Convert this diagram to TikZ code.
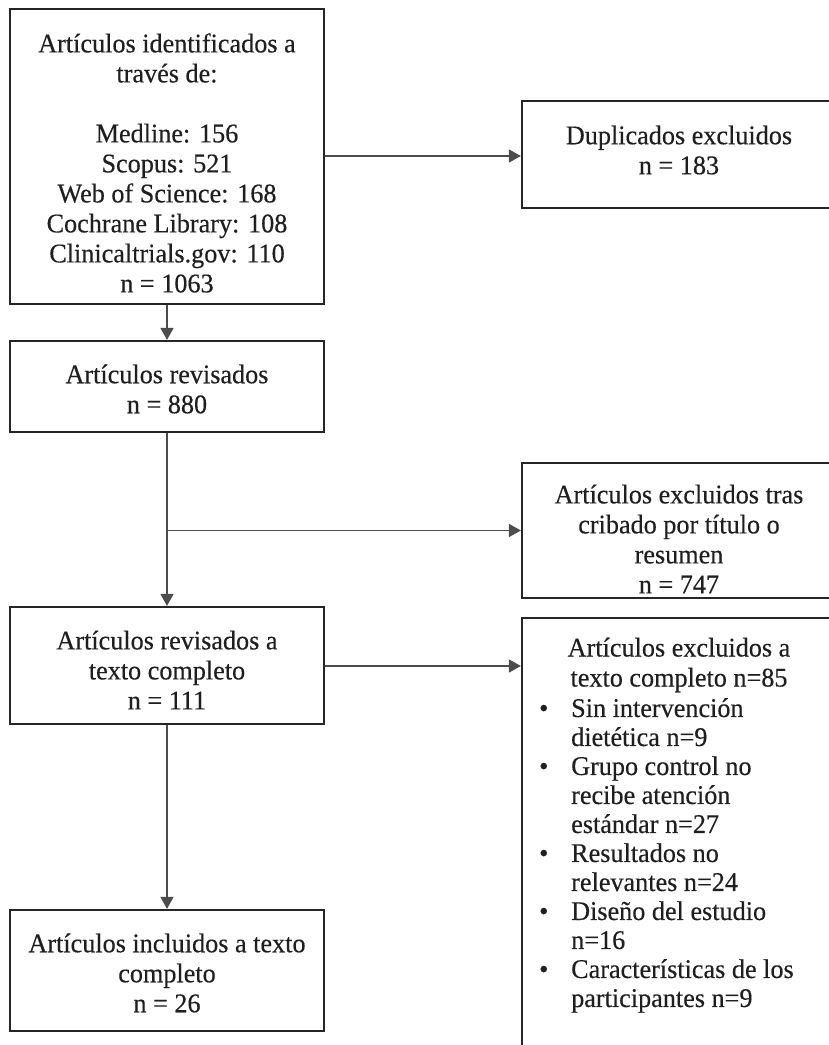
\documentclass[tikz,border=0pt]{standalone}
\usepackage{fontspec}
\setmainfont[FakeStretch=0.97,FakeBold=0.35]{Liberation Serif}
\usetikzlibrary{arrows.meta}
\newcommand{\bitem}[1]{\makebox[32pt][l]{\textbullet}#1}
\newcommand{\bcont}[1]{\hspace*{32pt}#1}
\begin{document}
\begin{tikzpicture}[x=1pt,y=-1pt,
  box/.style={draw=black!85,line width=2.2pt,inner sep=0pt,fill=none},
  txt/.style={align=center,font=\fontsize{27}{30}\selectfont,inner sep=0pt,text=black!88},
  lst/.style={align=left,font=\fontsize{27}{29}\selectfont,inner sep=0pt,text=black!88},
  conn/.style={draw=black!70,line width=1.3pt,-{Triangle[length=12pt,width=13pt]}},
  plainconn/.style={draw=black!70,line width=1.3pt}
]
\useasboundingbox (0,0) rectangle (829,1045);
\clip (0,0) rectangle (829,1045);
\fill[white] (0,0) rectangle (829,1045);

% left column boxes
\node[box,minimum width=314pt,minimum height=295pt] (b1) at (167,156.5) {};
\node[txt] (t1) at (167,163) {Artículos identificados a\\ través de:\\[30pt]Medline: 156\\ Scopus: 521\\ Web of Science: 168\\ Cochrane Library: 108\\ Clinicaltrials.gov: 110\\ n = 1063};

\node[box,minimum width=314pt,minimum height=91pt] (b2) at (167,386.5) {};
\node[txt] (t2) at (167,389) {Artículos revisados\\ n = 880};

\node[box,minimum width=314pt,minimum height=117pt] (b3) at (167,665.5) {};
\node[txt] (t3) at (167,670) {Artículos revisados a\\ texto completo\\ n = 111};

\node[box,minimum width=314pt,minimum height=121pt] (b4) at (167,970.5) {};
\node[txt] (t4) at (167,973) {Artículos incluidos a texto\\ completo\\ n = 26};

% right column boxes
\node[box,minimum width=314pt,minimum height=107pt] (dup) at (679,154.5) {};
\node[txt] (tdup) at (679,150) {Duplicados excluidos\\ n = 183};

\node[box,minimum width=314pt,minimum height=135pt] (crib) at (679,530.5) {};
\node[txt] (tcrib) at (679,539) {Artículos excluidos tras\\ cribado por título o\\ resumen\\ n = 747};

\node[box,minimum width=314pt,minimum height=442pt] (excl) at (679,839) {};
\node[txt] (texcl) at (679,665) {Artículos excluidos a\\ texto completo n=85};
\node[lst,anchor=north west] (lexcl) at (539,698) {\bitem{Sin intervención}\\ \bcont{dietética n=9}\\ \bitem{Grupo control no}\\ \bcont{recibe atención}\\ \bcont{estándar n=27}\\ \bitem{Resultados no}\\ \bcont{relevantes n=24}\\ \bitem{Diseño del estudio}\\ \bcont{n=16}\\ \bitem{Características de los}\\ \bcont{participantes n=9}};

% connectors
\draw[conn] (b1.south) -- (b2.north);
\draw[conn] (b1.east |- 0,156) -- (dup.west |- 0,156);
\draw[conn] (b2.south) -- (b3.north);
\coordinate (br) at (b2.south |- crib.west);
\draw[conn] (br) -- (crib.west);
\draw[conn] (b3.east |- 0,666) -- (excl.west |- 0,666);
\draw[conn] (b3.south) -- (b4.north);
\end{tikzpicture}
\end{document}
